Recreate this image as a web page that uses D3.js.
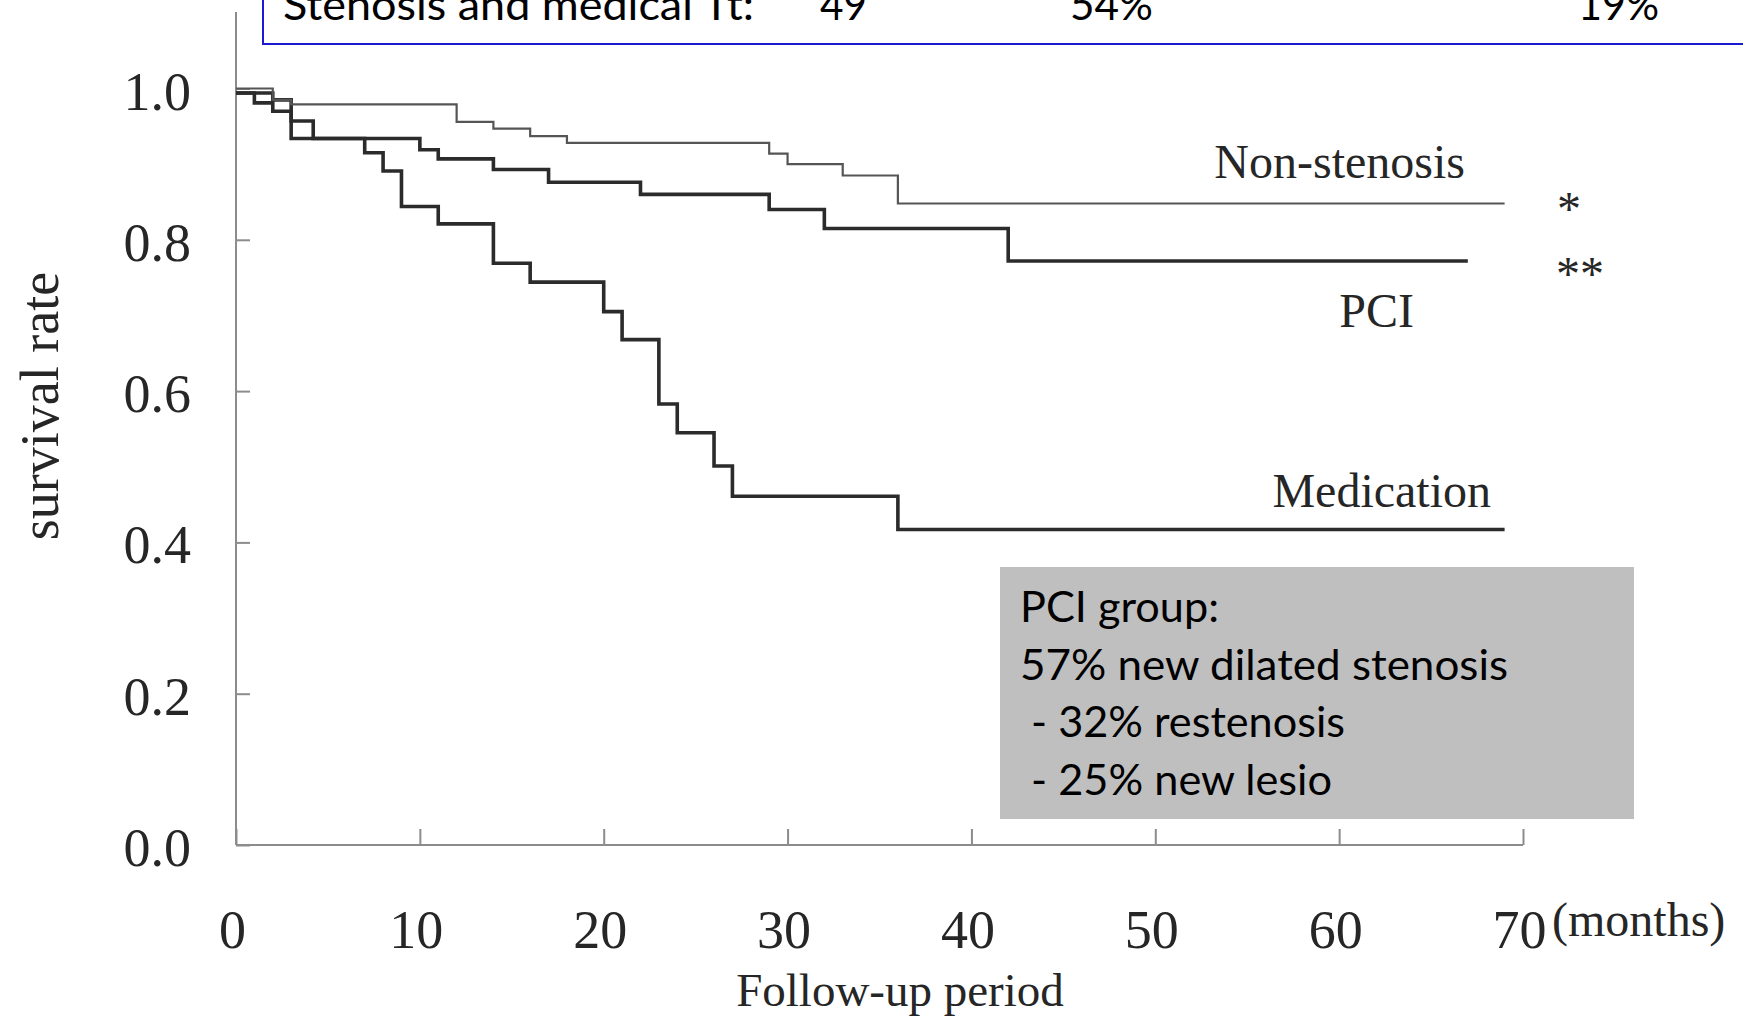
<!DOCTYPE html>
<html>
<head>
<meta charset="utf-8">
<script src="https://cdn.jsdelivr.net/npm/d3@7"></script>
<style>
  html, body { margin: 0; padding: 0; background: #fff; }
  svg { display: block; }
  .serif { font-family: "Liberation Serif", "Times New Roman", serif; fill: #262626; }
  .sans { font-family: Lato, "Open Sans", sans-serif; fill: #000; }
</style>
</head>
<body>
<svg id="chart" width="1743" height="1020"></svg>
<script>
// Kaplan-Meier survival steps: [month, survival rate]
const nonStenosis = [
  [0, 1.0], [2, 0.985], [3, 0.979], [12, 0.956], [14, 0.947], [16, 0.937],
  [18, 0.928], [29, 0.914], [30, 0.900], [33, 0.885], [36, 0.848], [69, 0.848]
];
const pci = [
  [0, 0.994], [2, 0.985], [3, 0.957], [4.2, 0.934], [10, 0.919], [11, 0.907],
  [14, 0.893], [17, 0.876], [22, 0.860], [29, 0.840], [32, 0.815], [42, 0.772],
  [67, 0.772]
];
const medication = [
  [0, 0.994], [1, 0.981], [2, 0.970], [3, 0.934], [7, 0.915], [8, 0.891],
  [9, 0.844], [11, 0.821], [14, 0.769], [16, 0.744], [20, 0.705], [21, 0.668],
  [23, 0.583], [24, 0.545], [26, 0.501], [27, 0.461], [36, 0.417], [69, 0.417]
];

const xTicks = [0, 10, 20, 30, 40, 50, 60, 70];
const yTicks = [0, 0.2, 0.4, 0.6, 0.8, 1.0];

const groupLabels = ["Non-stenosis", "PCI", "Medication"];
const significance = ["*", "**"];

const headerRow = ["Stenosis and medical Tt:", "49", "54%", "19%"];
const pciNotes = ["PCI group:", "57% new dilated stenosis", " - 32% restenosis", " - 25% new lesio"];

const svg = d3.select("#chart");

const x = d3.scaleLinear().domain([0, 70]).range([236, 1523]);
const y = d3.scaleLinear().domain([0, 1]).range([845, 88.5]);

// header table row in a blue-bordered box (top edge runs off the page)
svg.append("rect")
  .attr("x", 263).attr("y", -40)
  .attr("width", 1600).attr("height", 84)
  .attr("fill", "none").attr("stroke", "#1a1ad0").attr("stroke-width", 2);

const headerX = [283, 820, 1070, 1578];
const headerW = [471, 47, 83, 81];
svg.selectAll("text.hdr").data(headerRow).enter().append("text")
  .attr("class", "sans hdr")
  .attr("x", (d, i) => headerX[i]).attr("y", 20)
  .attr("font-size", 43)
  .attr("textLength", (d, i) => headerW[i])
  .attr("lengthAdjust", "spacingAndGlyphs")
  .text(d => d);

// axes
const axisColor = "#8c8c8c";
const yAxis = svg.append("g")
  .attr("transform", `translate(${x(0)},0)`)
  .call(d3.axisLeft(y).tickValues(yTicks).tickSize(-14).tickSizeOuter(0)
        .tickPadding(45).tickFormat(d3.format(".1f")));
yAxis.select(".domain").remove();
yAxis.selectAll(".tick line").attr("stroke", axisColor).attr("stroke-width", 2);
yAxis.selectAll(".tick text")
  .attr("class", "serif").attr("font-size", 54).attr("dy", "0.38em");

const xAxis = svg.append("g")
  .attr("transform", `translate(0,${y(0)})`)
  .call(d3.axisBottom(x).tickValues(xTicks).tickSize(-16).tickSizeOuter(0)
        .tickPadding(65).tickFormat(d3.format("d")));
xAxis.select(".domain").remove();
xAxis.selectAll(".tick line").attr("stroke", axisColor).attr("stroke-width", 2);
xAxis.selectAll(".tick text")
  .attr("class", "serif").attr("font-size", 54).attr("dx", -4);

svg.append("line")
  .attr("x1", x(0)).attr("x2", x(0)).attr("y1", y(0)).attr("y2", 12)
  .attr("stroke", axisColor).attr("stroke-width", 2);
svg.append("line")
  .attr("x1", x(0)).attr("x2", x(70)).attr("y1", y(0)).attr("y2", y(0))
  .attr("stroke", axisColor).attr("stroke-width", 2);

// axis titles
svg.append("text").attr("class", "serif")
  .attr("transform", `translate(58,406) rotate(-90)`)
  .attr("text-anchor", "middle").attr("font-size", 54)
  .text("survival rate");
svg.append("text").attr("class", "serif")
  .attr("x", 900).attr("y", 1006).attr("text-anchor", "middle")
  .attr("font-size", 47).text("Follow-up period");
svg.append("text").attr("class", "serif")
  .attr("x", 1552).attr("y", 936).attr("font-size", 48).text("(months)");

// survival curves
const line = d3.line().x(d => x(d[0])).y(d => y(d[1])).curve(d3.curveStepAfter);
const curves = [
  { data: medication, color: "#2b2b2b", width: 3.6 },
  { data: pci, color: "#2b2b2b", width: 3.6 },
  { data: nonStenosis, color: "#555", width: 2.2 }
];
svg.selectAll("path.km").data(curves).enter().append("path")
  .attr("class", "km")
  .attr("d", d => line(d.data))
  .attr("fill", "none")
  .attr("stroke", d => d.color)
  .attr("stroke-width", d => d.width)
  .attr("stroke-linejoin", "miter");

// group labels
const labelPos = [[1465, 178], [1414, 327], [1491, 507]];
svg.selectAll("text.grp").data(groupLabels).enter().append("text")
  .attr("class", "serif grp")
  .attr("x", (d, i) => labelPos[i][0]).attr("y", (d, i) => labelPos[i][1])
  .attr("text-anchor", "end").attr("font-size", 48)
  .text(d => d);

const sigPos = [[1557, 225], [1556, 290]];
svg.selectAll("text.sig").data(significance).enter().append("text")
  .attr("class", "serif sig")
  .attr("x", (d, i) => sigPos[i][0]).attr("y", (d, i) => sigPos[i][1])
  .attr("font-size", 48)
  .text(d => d);

// PCI outcome note
svg.append("rect")
  .attr("x", 1000).attr("y", 567).attr("width", 634).attr("height", 252)
  .attr("fill", "#bfbfbf");
const noteY = [622, 680, 737, 795];
const noteX = [1020, 1020, 1020, 1020];
const noteW = [199, 488, 325, 312];
svg.selectAll("text.note").data(pciNotes).enter().append("text")
  .attr("class", "sans note")
  .attr("x", (d, i) => noteX[i]).attr("y", (d, i) => noteY[i])
  .attr("font-size", 43)
  .attr("xml:space", "preserve")
  .style("white-space", "pre")
  .attr("textLength", (d, i) => noteW[i])
  .attr("lengthAdjust", "spacingAndGlyphs")
  .text(d => d);
</script>
</body>
</html>
